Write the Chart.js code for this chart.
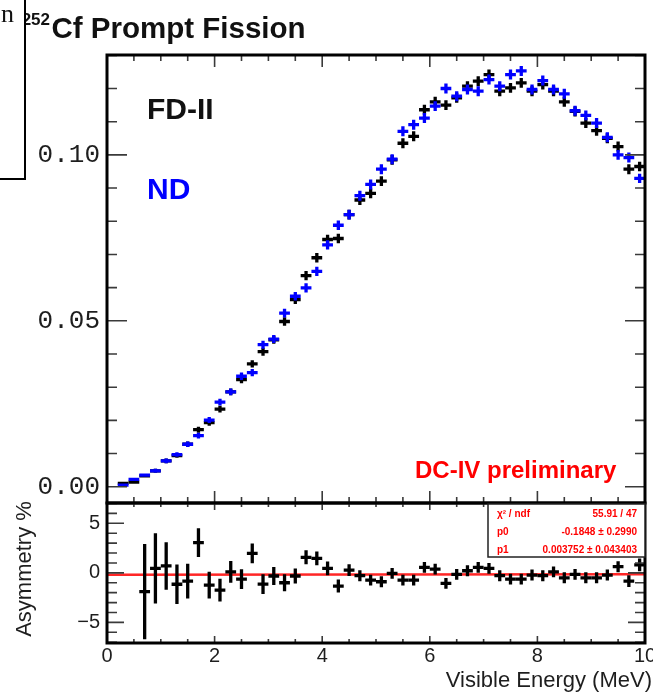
<!DOCTYPE html>
<html><head><meta charset="utf-8">
<script src="https://cdn.jsdelivr.net/npm/chart.js@4.4.1/dist/chart.umd.min.js"></script>
<style>
html,body{margin:0;padding:0;background:#fff;width:653px;height:692px;overflow:hidden;position:relative;}
#top{position:absolute;left:0;top:0;width:653px;height:510px;}
#bot{position:absolute;left:0;top:490px;width:653px;height:202px;}
</style></head><body>
<canvas id="top" width="653" height="510"></canvas>
<canvas id="bot" width="653" height="202"></canvas>
<script>
// ---------- data ----------
const binCenters = [0.3,0.5,0.7,0.9,1.1,1.3,1.5,1.7,1.9,2.1,2.3,2.5,2.7,2.9,3.1,3.3,3.5,3.7,3.9,4.1,4.3,4.5,4.7,4.9,5.1,5.3,5.5,5.7,5.9,6.1,6.3,6.5,6.7,6.9,7.1,7.3,7.5,7.7,7.9,8.1,8.3,8.5,8.7,8.9,9.1,9.3,9.5,9.7,9.9];
const fdValues = [0.0010,0.0014,0.0033,0.0048,0.0078,0.0094,0.0128,0.0172,0.0193,0.0234,0.0286,0.0323,0.0370,0.0407,0.0443,0.0498,0.0564,0.0636,0.0690,0.0745,0.0748,0.0820,0.0864,0.0884,0.0921,0.0985,0.1035,0.1056,0.1136,0.1160,0.1150,0.1172,0.1207,0.1222,0.1242,0.1192,0.1202,0.1217,0.1192,0.1212,0.1192,0.1160,0.1131,0.1096,0.1073,0.1050,0.1025,0.0957,0.0965];
const ndValues = [0.0005,0.0022,0.0035,0.0048,0.0078,0.0097,0.0128,0.0154,0.0201,0.0255,0.0286,0.0333,0.0344,0.0428,0.0445,0.0523,0.0574,0.0599,0.0649,0.0729,0.0788,0.0820,0.0877,0.0911,0.0957,0.0987,0.1071,0.1091,0.1111,0.1147,0.1200,0.1177,0.1197,0.1192,0.1227,0.1207,0.1242,0.1253,0.1197,0.1224,0.1197,0.1184,0.1133,0.1119,0.1096,0.1053,0.1000,0.0992,0.0929];
const spectrumErr = [0.0003,0.0004,0.0005,0.0006,0.0007,0.0007,0.0008,0.0009,0.0009,0.0010,0.0010,0.0011,0.0011,0.0012,0.0012,0.0013,0.0013,0.0014,0.0014,0.0014,0.0014,0.0015,0.0015,0.0015,0.0015,0.0015,0.0015,0.0015,0.0015,0.0015,0.0015,0.0015,0.0015,0.0015,0.0015,0.0015,0.0015,0.0015,0.0015,0.0015,0.0015,0.0015,0.0015,0.0015,0.0015,0.0015,0.0015,0.0015,0.0014];
const asymCenters = [0.7,0.9,1.1,1.3,1.5,1.7,1.9,2.1,2.3,2.5,2.7,2.9,3.1,3.3,3.5,3.7,3.9,4.1,4.3,4.5,4.7,4.9,5.1,5.3,5.5,5.7,5.9,6.1,6.3,6.5,6.7,6.9,7.1,7.3,7.5,7.7,7.9,8.1,8.3,8.5,8.7,8.9,9.1,9.3,9.5,9.7,9.9];
const asymValues = [-1.9,0.45,0.7,-1.15,-0.83,3.05,-1.23,-1.74,0.1,-0.63,1.97,-1.13,-0.32,-1.0,-0.32,1.57,1.46,0.45,-1.33,0.28,-0.29,-0.73,-0.9,-0.05,-0.73,-0.73,0.55,0.38,-1.06,-0.15,0.21,0.55,0.45,-0.29,-0.63,-0.63,-0.22,-0.29,0.1,-0.5,-0.15,-0.5,-0.5,-0.22,0.62,-0.83,0.8];
const asymErr = [4.8,3.55,2.4,2.0,1.75,1.45,1.35,1.15,1.1,1.0,1.0,1.0,0.9,0.85,0.75,0.7,0.7,0.7,0.65,0.6,0.55,0.55,0.55,0.55,0.55,0.55,0.55,0.55,0.55,0.55,0.55,0.55,0.55,0.55,0.55,0.55,0.55,0.55,0.55,0.55,0.55,0.55,0.55,0.55,0.55,0.6,0.65];
const fitP0 = -0.1848, fitP1 = 0.003752;
const statLabels = ["\u03C7\u00B2 / ndf", "p0", "p1"];
const statValues = ["55.91 / 47", "-0.1848 \u00B1 0.2990", "0.003752 \u00B1 0.043403"];
const topYTicks = [0, 0.05, 0.10];
const topYTickLabels = ["0.00", "0.05", "0.10"];
const botYTicks = [-5, 0, 5];
const botYTickLabels = ["\u22125", "0", "5"];
const xTicks = [0, 2, 4, 6, 8, 10];
const xTickLabels = ["0", "2", "4", "6", "8", "10"];
const binHalfWidth = 0.1;

// ---------- plugins ----------
const errorBars = {
  id: 'errorBars',
  afterDatasetsDraw(chart) {
    const {ctx, chartArea: a, scales: {x, y}} = chart;
    ctx.save();
    ctx.beginPath(); ctx.rect(a.left, a.top, a.right - a.left, a.bottom - a.top); ctx.clip();
    chart.data.datasets.forEach(ds => {
      if (!ds.errY) return;
      ctx.strokeStyle = ds.borderColor; ctx.lineWidth = 3.3; ctx.lineCap = 'butt';
      ds.data.forEach((p, i) => {
        const px = x.getPixelForValue(p.x), py = y.getPixelForValue(p.y);
        const xl = x.getPixelForValue(p.x - binHalfWidth), xr = x.getPixelForValue(p.x + binHalfWidth);
        const yt = y.getPixelForValue(p.y + ds.errY[i]), yb = y.getPixelForValue(p.y - ds.errY[i]);
        ctx.beginPath();
        ctx.moveTo(xl, py); ctx.lineTo(xr, py);
        ctx.moveTo(px, yt); ctx.lineTo(px, yb);
        ctx.stroke();
      });
    });
    ctx.restore();
  }
};
function rootFrame(cfg) {
  return {
    id: 'rootFrame',
    afterDraw(chart) {
      const {ctx, chartArea: a, scales: {x, y}} = chart;
      ctx.save();
      ctx.strokeStyle = '#3a3a3a'; ctx.lineWidth = 1.6;
      ctx.beginPath();
      for (let k = 0; k <= Math.round((cfg.xMax - cfg.xMin) / cfg.xStep); k++) {
        const v = cfg.xMin + k * cfg.xStep;
        const major = Math.abs(v / cfg.xMajorStep - Math.round(v / cfg.xMajorStep)) < 1e-6;
        const len = major ? cfg.xMajLen : cfg.xMinLen;
        const px = x.getPixelForValue(v);
        ctx.moveTo(px, a.top); ctx.lineTo(px, a.top + len);
        ctx.moveTo(px, a.bottom); ctx.lineTo(px, a.bottom - len);
      }
      for (let k = 0; k <= Math.round((cfg.yMax - cfg.yMin) / cfg.yStep); k++) {
        const v = cfg.yMin + k * cfg.yStep;
        const major = Math.abs(v / cfg.yMajorStep - Math.round(v / cfg.yMajorStep)) < 1e-6;
        const len = major ? cfg.yMajLen : cfg.yMinLen;
        const py = y.getPixelForValue(v);
        ctx.moveTo(a.left, py); ctx.lineTo(a.left + len, py);
        ctx.moveTo(a.right, py); ctx.lineTo(a.right - len, py);
      }
      ctx.stroke();
      ctx.strokeStyle = '#000'; ctx.lineWidth = 3;
      ctx.strokeRect(a.left, a.top, a.right - a.left, a.bottom - a.top);
      ctx.restore();
    }
  };
}
function annotations(drawFn) {
  return { id: 'annot', afterDraw(chart) { const ctx = chart.ctx; ctx.save(); drawFn(ctx, chart); ctx.restore(); } };
}
function txt(ctx, s, x, y, font, color, align) {
  ctx.font = font; ctx.fillStyle = color; ctx.textAlign = align || 'left'; ctx.textBaseline = 'alphabetic';
  ctx.fillText(s, x, y);
}

// ---------- top chart ----------
new Chart(document.getElementById('top'), {
  type: 'scatter',
  data: {
    datasets: [
      { label: 'FD-II', data: binCenters.map((v, i) => ({x: v, y: fdValues[i]})), errY: spectrumErr,
        borderColor: '#000000', backgroundColor: '#000000', pointRadius: 0, showLine: false },
      { label: 'ND', data: binCenters.map((v, i) => ({x: v, y: ndValues[i]})), errY: spectrumErr,
        borderColor: '#0000ff', backgroundColor: '#0000ff', pointRadius: 0, showLine: false }
    ]
  },
  options: {
    responsive: false, animation: false, events: [],
    layout: { padding: { left: 0, top: 55, right: 8, bottom: 7 } },
    plugins: { legend: { display: false }, tooltip: { enabled: false } },
    scales: {
      x: { type: 'linear', min: 0, max: 10, display: false },
      y: { type: 'linear', min: -0.0049, max: 0.1301,
        afterFit(s) { s.width = 107; s.paddingTop = 0; s.paddingBottom = 0; },
        afterBuildTicks(s) { s.ticks = topYTicks.map(v => ({value: v})); },
        ticks: { callback: (v, i) => topYTickLabels[i], font: { family: 'Liberation Mono', size: 26 }, color: '#1e1e1e', padding: 7 },
        grid: { display: false, drawTicks: false }, border: { display: false } }
    }
  },
  plugins: [errorBars,
    rootFrame({xMin: 0, xMax: 10, xStep: 0.5, xMajorStep: 2, xMajLen: 12, xMinLen: 6,
               yMin: 0, yMax: 0.13, yStep: 0.01, yMajorStep: 0.05, yMajLen: 20, yMinLen: 10}),
    annotations((ctx) => {
      txt(ctx, '252', 50, 25, 'bold 17px "Liberation Sans"', '#111', 'right');
      txt(ctx, 'Cf Prompt Fission', 51.5, 37.5, 'bold 29.5px "Liberation Sans"', '#111');
      // cropped slide box at top-left
      ctx.fillStyle = '#fff'; ctx.fillRect(-5, -5, 30, 184);
      ctx.strokeStyle = '#000'; ctx.lineWidth = 2;
      ctx.beginPath(); ctx.moveTo(25, -2); ctx.lineTo(25, 179); ctx.lineTo(-2, 179); ctx.stroke();
      txt(ctx, 'n', 1, 22, '26px "Liberation Serif"', '#111');
      txt(ctx, 'FD-II', 147, 118.5, 'bold 30px "Liberation Sans"', '#111');
      txt(ctx, 'ND', 147, 198.5, 'bold 30px "Liberation Sans"', '#0000ff');
      txt(ctx, 'DC-IV preliminary', 415, 478, 'bold 24px "Liberation Sans"', '#ff0000');
    })
  ]
});

// ---------- bottom chart ----------
new Chart(document.getElementById('bot'), {
  type: 'scatter',
  data: {
    datasets: [
      { type: 'line', label: 'fit', data: [{x: 0, y: fitP0}, {x: 10, y: fitP0 + 10 * fitP1}],
        borderColor: 'rgba(255,0,0,0.85)', borderWidth: 2.5, pointRadius: 0, fill: false },
      { label: 'Asymmetry', data: asymCenters.map((v, i) => ({x: v, y: asymValues[i]})), errY: asymErr,
        borderColor: '#000000', backgroundColor: '#000000', pointRadius: 0, showLine: false }
    ]
  },
  options: {
    responsive: false, animation: false, events: [],
    layout: { padding: { left: 0, top: 13, right: 8, bottom: 0 } },
    plugins: { legend: { display: false }, tooltip: { enabled: false } },
    scales: {
      x: { type: 'linear', min: 0, max: 10,
        afterFit(s) { s.height = 49; s.paddingLeft = 0; s.paddingRight = 0; },
        afterBuildTicks(s) { s.ticks = xTicks.map(v => ({value: v})); },
        ticks: { callback: (v, i) => xTickLabels[i], font: { family: 'Liberation Sans', size: 20 }, color: '#1e1e1e', padding: 1, maxRotation: 0, autoSkip: false },
        grid: { display: false, drawTicks: false }, border: { display: false } },
      y: { type: 'linear', min: -7.08, max: 7.05,
        afterFit(s) { s.width = 107; s.paddingTop = 0; s.paddingBottom = 0; },
        afterBuildTicks(s) { s.ticks = botYTicks.map(v => ({value: v})); },
        ticks: { callback: (v, i) => botYTickLabels[i], font: { family: 'Liberation Sans', size: 20 }, color: '#1e1e1e', padding: 7 },
        grid: { display: false, drawTicks: false }, border: { display: false } }
    }
  },
  plugins: [errorBars,
    rootFrame({xMin: 0, xMax: 10, xStep: 0.5, xMajorStep: 2, xMajLen: 7, xMinLen: 4,
               yMin: -7, yMax: 7, yStep: 1, yMajorStep: 5, yMajLen: 17, yMinLen: 10}),
    annotations((ctx) => {
      // stat box
      ctx.fillStyle = '#fff'; ctx.fillRect(488, 14, 157, 53);
      ctx.strokeStyle = '#222'; ctx.lineWidth = 1.5; ctx.strokeRect(488, 14, 157, 53);
      const rows = [27, 45, 63];
      statLabels.forEach((s, i) => txt(ctx, s, 497, rows[i], 'bold 10px "Liberation Sans"', '#ff0000'));
      statValues.forEach((s, i) => txt(ctx, s, 637, rows[i], 'bold 10px "Liberation Sans"', '#ff0000', 'right'));
      // axis titles
      txt(ctx, 'Visible Energy (MeV)', 652, 196.5, '22px "Liberation Sans"', '#1e1e1e', 'right');
      ctx.save(); ctx.translate(31, 79); ctx.rotate(-Math.PI / 2);
      txt(ctx, 'Asymmetry %', 0, 0, '22px "Liberation Sans"', '#1e1e1e', 'center');
      ctx.restore();
    })
  ]
});
</script>
</body></html>
